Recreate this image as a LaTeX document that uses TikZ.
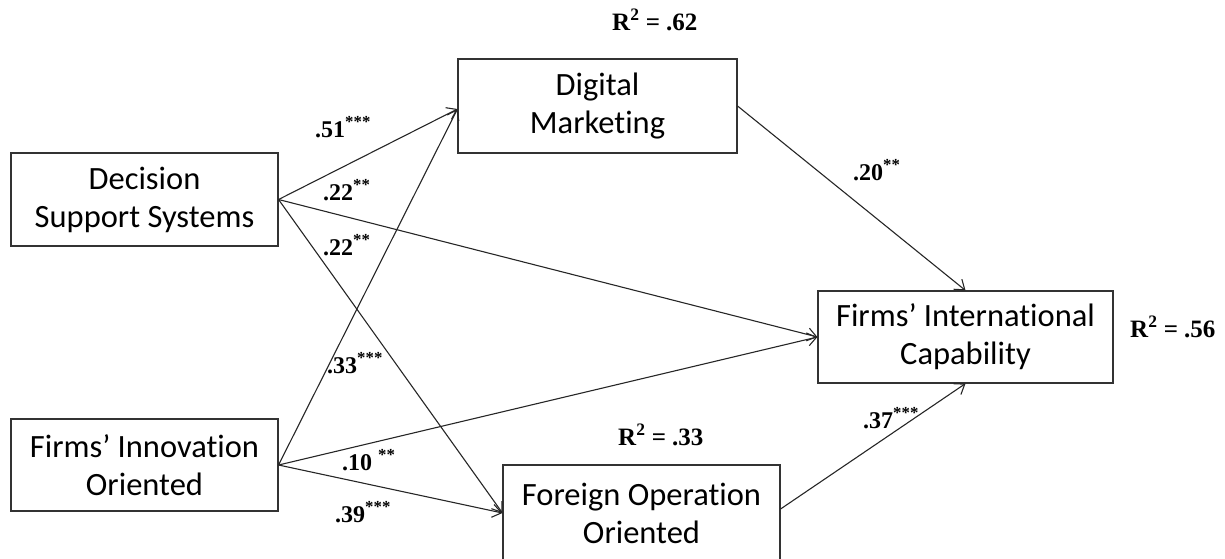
\documentclass[tikz,border=0pt]{standalone}
\usepackage{fontspec}
\setmainfont[Ligatures=NoCommon]{Carlito}
\newfontfamily\labfont{Liberation Serif}
\usetikzlibrary{arrows.meta}
\begin{document}
\begin{tikzpicture}[x=1pt,y=-1pt,
  box/.style={draw=black!80, line width=1.1pt, rectangle, inner sep=0pt, align=center,
    font=\fontsize{32.5}{38}\selectfont},
  conn/.style={draw=black!85, line width=1.1pt,
    -{Straight Barb[length=9pt,width=13pt,line width=1.1pt]}},
  coef/.style={inner sep=0pt, anchor=base west, font=\labfont\bfseries\fontsize{24}{28}\selectfont},
  rsq/.style={inner sep=0pt, anchor=base west, font=\labfont\bfseries\fontsize{25}{30}\selectfont}]
\useasboundingbox (0,0) rectangle (1225,558);
% boxes
\node[box, minimum width=267pt, minimum height=93pt] (dss) at (144.5,199.5) {Decision\\Support Systems};
\node[box, minimum width=279pt, minimum height=94pt] (dm) at (597.5,106) {Digital\\Marketing};
\node[box, minimum width=267pt, minimum height=92pt] (fio) at (144.5,465) {Firms’ Innovation\\Oriented};
\node[box, minimum width=277pt, minimum height=96pt] (foo) at (641.5,513) {Foreign Operation\\Oriented};
\node[box, minimum width=295pt, minimum height=92pt] (fic) at (965.5,337) {Firms’ International\\Capability};
% connectors
\draw[conn] (dss.east) -- ([yshift=-3pt]dm.west);
\draw[conn] (fio.east) -- ([yshift=-3pt]dm.west);
\draw[conn] (dss.east) -- (fic.west);
\draw[conn] (dss.east) -- (foo.west);
\draw[conn] (fio.east) -- (fic.west);
\draw[conn] (fio.east) -- (foo.west);
\draw[conn] (dm.east) -- (fic.north);
\draw[conn] ([yshift=4pt]foo.east) -- (fic.south);
% coefficients
\node[coef] (c51) at (315,137) {.51\textsuperscript{***}};
\node[coef] (c22a) at (323,200) {.22\textsuperscript{**}};
\node[coef] (c22b) at (323,255) {.22\textsuperscript{**}};
\node[coef] (c33) at (327,373) {.33\textsuperscript{***}};
\node[coef] (c10) at (342,470) {.10 \textsuperscript{**}};
\node[coef] (c39) at (335,522) {.39\textsuperscript{***}};
\node[coef] (c20) at (853,180) {.20\textsuperscript{**}};
\node[coef] (c37) at (863,428) {.37\textsuperscript{***}};
% R squared
\node[rsq] (r62) at (612,30) {R\textsuperscript{2} = .62};
\node[rsq] (r56) at (1130,337) {R\textsuperscript{2} = .56};
\node[rsq] (r33) at (618,445) {R\textsuperscript{2} = .33};
\end{tikzpicture}
\end{document}
